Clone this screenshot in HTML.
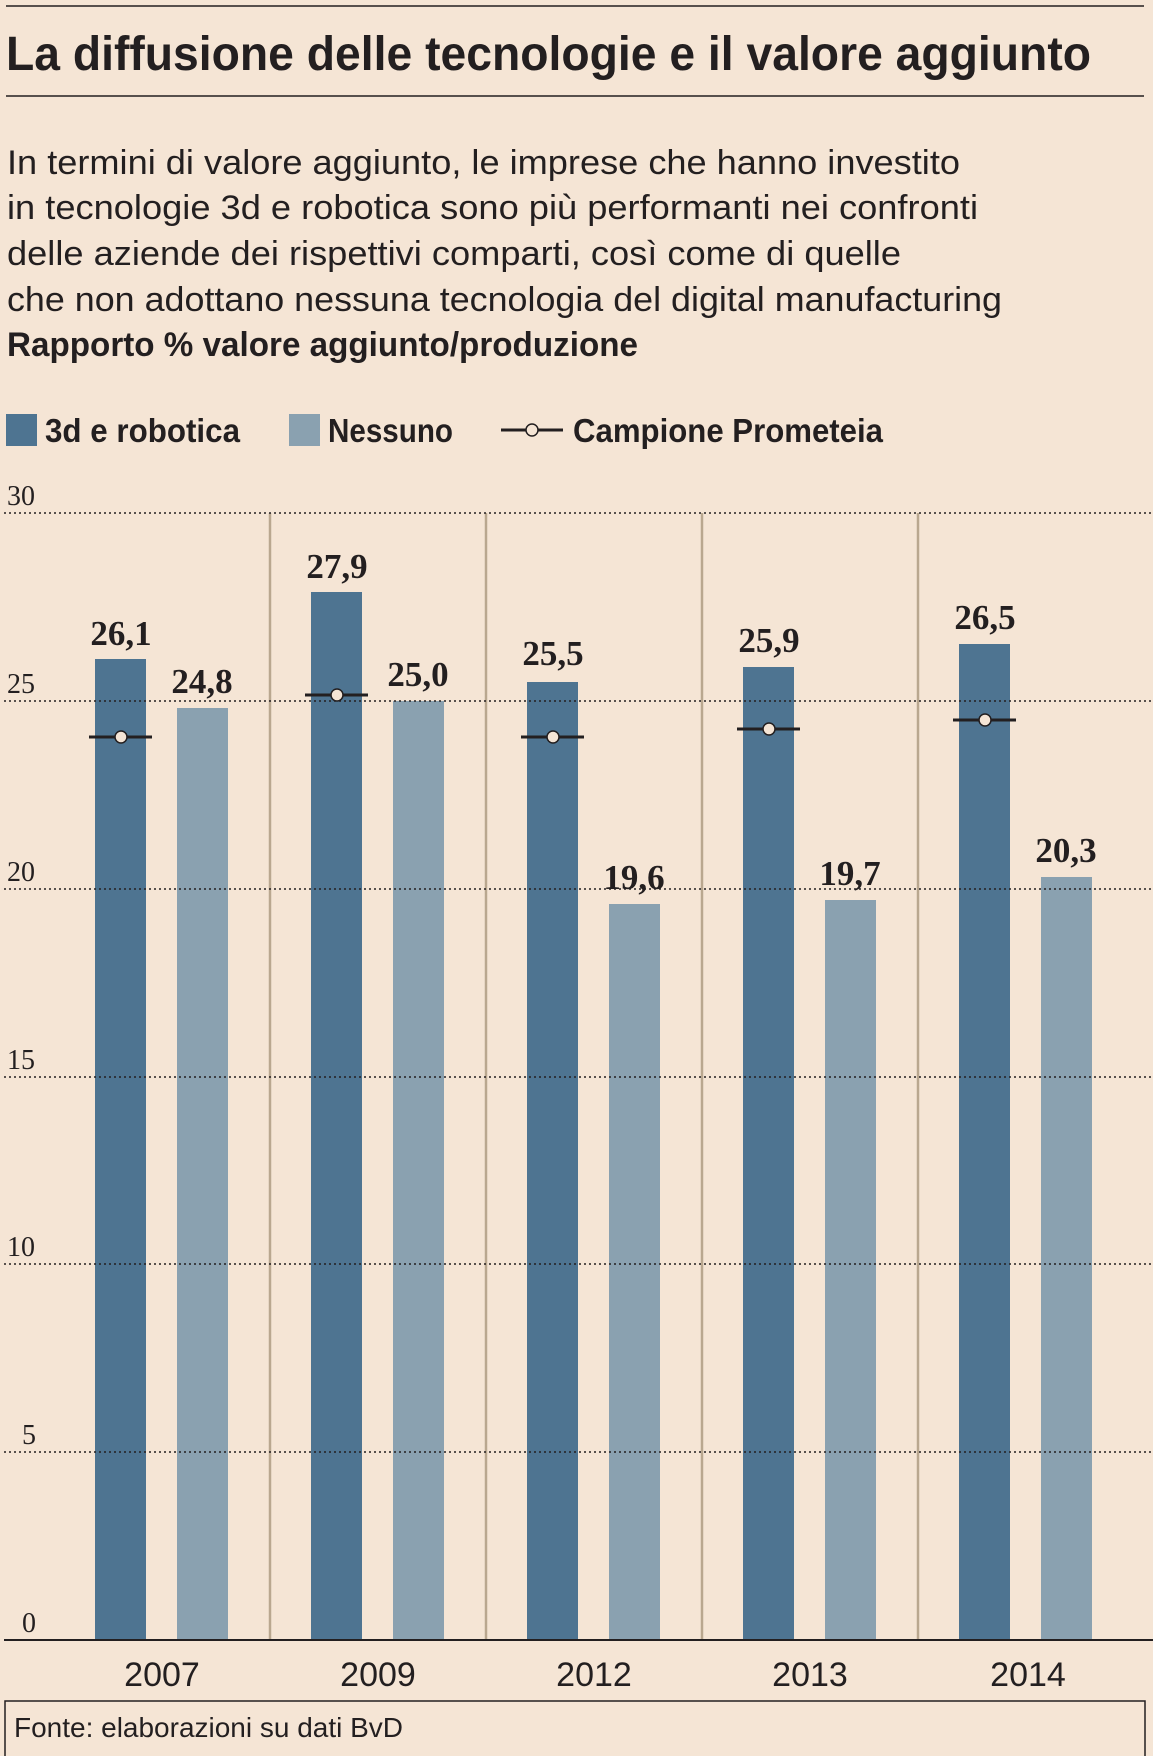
<!DOCTYPE html>
<html><head><meta charset="utf-8"><style>
html,body{margin:0;padding:0;background:#f5e5d5;}
svg{display:block}
.t{font-family:"Liberation Sans",sans-serif;fill:#231f20}
.s{font-family:"Liberation Serif",serif;fill:#231f20}
</style></head><body>
<svg width="1153" height="1756" viewBox="0 0 1153 1756" xmlns="http://www.w3.org/2000/svg">
<rect width="1153" height="1756" fill="#f5e5d5"/>
<line x1="6" y1="6" x2="1144" y2="6" stroke="#231f20" stroke-width="1.5"/>
<text class="t" x="6" y="70" font-size="48" font-weight="bold" textLength="1085" lengthAdjust="spacingAndGlyphs">La diffusione delle tecnologie e il valore aggiunto</text>
<line x1="6" y1="96" x2="1144" y2="96" stroke="#231f20" stroke-width="1.5"/>
<g class="t" font-size="34">
<text x="7" y="174" textLength="953" lengthAdjust="spacingAndGlyphs">In termini di valore aggiunto, le imprese che hanno investito</text>
<text x="7" y="219" textLength="971" lengthAdjust="spacingAndGlyphs">in tecnologie 3d e robotica sono più performanti nei confronti</text>
<text x="7" y="265" textLength="894" lengthAdjust="spacingAndGlyphs">delle aziende dei rispettivi comparti, così come di quelle</text>
<text x="7" y="311" textLength="995" lengthAdjust="spacingAndGlyphs">che non adottano nessuna tecnologia del digital manufacturing</text>
<text x="7" y="356" font-weight="bold" textLength="631" lengthAdjust="spacingAndGlyphs">Rapporto % valore aggiunto/produzione</text>
</g>
<rect x="6" y="414" width="31" height="32" fill="#4e7491"/>
<text class="t" x="45" y="442" font-size="33" font-weight="bold" textLength="195" lengthAdjust="spacingAndGlyphs">3d e robotica</text>
<rect x="289" y="414" width="31" height="32" fill="#8aa1b0"/>
<text class="t" x="328" y="442" font-size="33" font-weight="bold" textLength="125" lengthAdjust="spacingAndGlyphs">Nessuno</text>
<line x1="501" y1="430" x2="563" y2="430" stroke="#231f20" stroke-width="3"/>
<circle cx="532" cy="430" r="6" fill="#f5e5d5" stroke="#231f20" stroke-width="1.5"/>
<text class="t" x="573" y="442" font-size="33" font-weight="bold" textLength="310" lengthAdjust="spacingAndGlyphs">Campione Prometeia</text>
<g stroke="#b9a78f" stroke-width="2.5">
<line x1="270" y1="513" x2="270" y2="1640"/><line x1="486" y1="513" x2="486" y2="1640"/>
<line x1="702" y1="513" x2="702" y2="1640"/><line x1="918" y1="513" x2="918" y2="1640"/>
</g>
<g fill="#4e7491">
<rect x="95" y="659" width="51" height="981"/>
<rect x="311" y="592" width="51" height="1048"/>
<rect x="527" y="682" width="51" height="958"/>
<rect x="743" y="667" width="51" height="973"/>
<rect x="959" y="644" width="51" height="996"/>
</g>
<g fill="#8aa1b0">
<rect x="177" y="708" width="51" height="932"/>
<rect x="393" y="701" width="51" height="939"/>
<rect x="609" y="904" width="51" height="736"/>
<rect x="825" y="900" width="51" height="740"/>
<rect x="1041" y="877" width="51" height="763"/>
</g>
<g stroke="#231f20" stroke-width="1.6" stroke-dasharray="2,3">
<line x1="4" y1="513" x2="1153" y2="513"/><line x1="4" y1="701" x2="1153" y2="701"/>
<line x1="4" y1="889" x2="1153" y2="889"/><line x1="4" y1="1077" x2="1153" y2="1077"/>
<line x1="4" y1="1264" x2="1153" y2="1264"/><line x1="4" y1="1452" x2="1153" y2="1452"/>
</g>
<g class="s" font-size="28">
<text x="7" y="505">30</text><text x="7" y="693">25</text><text x="7" y="881">20</text>
<text x="7" y="1069">15</text><text x="7" y="1256">10</text><text x="22" y="1444">5</text><text x="22" y="1632">0</text>
</g>
<g stroke="#231f20" stroke-width="3">
<line x1="89" y1="737" x2="152" y2="737"/>
<line x1="305" y1="695" x2="368" y2="695"/>
<line x1="521" y1="737" x2="584" y2="737"/>
<line x1="737" y1="729" x2="800" y2="729"/>
<line x1="953" y1="720" x2="1016" y2="720"/>
</g>
<g fill="#f5e5d5" stroke="#231f20" stroke-width="1.5">
<circle cx="121" cy="737" r="6"/><circle cx="337" cy="695" r="6"/><circle cx="553" cy="737" r="6"/>
<circle cx="769" cy="729" r="6"/><circle cx="985" cy="720" r="6"/>
</g>
<g class="s" font-size="35" font-weight="bold" text-anchor="middle">
<text x="121" y="645">26,1</text><text x="202" y="693">24,8</text>
<text x="337" y="578">27,9</text><text x="418" y="686">25,0</text>
<text x="553" y="665">25,5</text><text x="634" y="889">19,6</text>
<text x="769" y="652">25,9</text><text x="850" y="885">19,7</text>
<text x="985" y="629">26,5</text><text x="1066" y="862">20,3</text>
</g>
<line x1="4" y1="1640" x2="1153" y2="1640" stroke="#231f20" stroke-width="2"/>
<g class="t" font-size="34" text-anchor="middle">
<text x="162" y="1686">2007</text><text x="378" y="1686">2009</text><text x="594" y="1686">2012</text>
<text x="810" y="1686">2013</text><text x="1028" y="1686">2014</text>
</g>
<path d="M5 1756 V1701 H1145 V1756" fill="none" stroke="#231f20" stroke-width="1.5"/>
<text class="t" x="14" y="1737" font-size="28" textLength="389" lengthAdjust="spacingAndGlyphs">Fonte: elaborazioni su dati BvD</text>
</svg>
</body></html>
